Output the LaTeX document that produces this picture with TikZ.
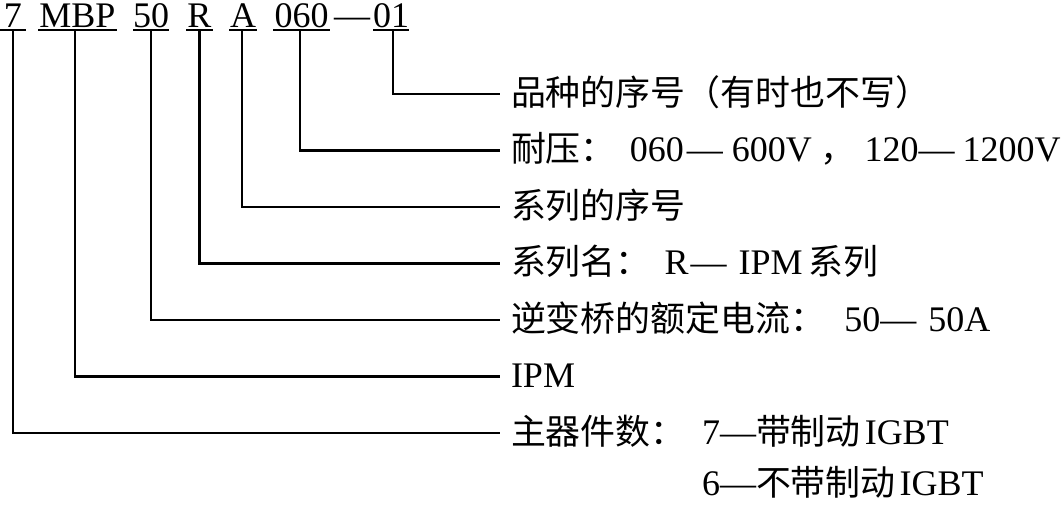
\documentclass[tikz,border=0pt]{standalone}
\usepackage{fontspec}
\setmainfont{Liberation Serif}
\newfontfamily\cjk{Noto Sans CJK SC}[Scale=0.97]
\begin{document}
\begin{tikzpicture}[x=1pt,y=-1pt,
  every node/.style={inner sep=0pt,outer sep=0pt,font=\fontsize{36}{40}\selectfont},
  code/.style={anchor=base},
  lbl/.style={anchor=base west},
  wire/.style={line width=2.6pt,line join=miter},
  uline/.style={line width=2.6pt}]
\useasboundingbox (0,0) rectangle (1063,504);
% code parts
\node[code,minimum width=26pt] (c7) at (13,27) {7};
\node[code,minimum width=79pt] (cM) at (77.5,27) {MBP};
\node[code,minimum width=36pt] (c50) at (151,27) {50};
\node[code,minimum width=27pt] (cR) at (199.5,27) {R};
\node[code,minimum width=28pt] (cA) at (243,27) {A};
\node[code,minimum width=57pt] (c060) at (301.5,27) {060};
\node[code] (cd) at (352,27) {—};
\node[code,minimum width=34pt] (c01) at (391,27) {01};
\foreach \n in {c7,cM,c50,cR,cA,c060,c01}
  \draw[uline] ([yshift=-3pt]\n.base west) -- ([yshift=-3pt]\n.base east);
% line ends
\coordinate (e01) at (500,94);
\coordinate (e060) at (500,150.5);
\coordinate (eA) at (500,207);
\coordinate (eR) at (500,263.5);
\coordinate (e50) at (500,320);
\coordinate (eM) at (500,376.5);
\coordinate (e7) at (500,433);
% connectors
\draw[wire] ([yshift=-3pt]c01.base) ++(2,0) |- (e01);
\draw[wire] ([yshift=-3pt]c060.base) ++(-1.5,0) |- (e060);
\draw[wire] ([yshift=-3pt]cA.base) ++(-1,0) |- (eA);
\draw[wire] ([yshift=-3pt]cR.base) |- (eR);
\draw[wire] ([yshift=-3pt]c50.base) |- (e50);
\draw[wire] ([yshift=-3pt]cM.base) ++(-2.5,0) |- (eM);
\draw[wire] ([yshift=-3pt]c7.base) |- (e7);
% labels
\node[lbl] (l01) at (511,105) {{\cjk 品种的序号（有时也不写）}};
\node[lbl] (l060) at (511,161.5) {{\cjk 耐压：}\hspace{14pt}060\hspace{3pt}—\hspace{9pt}600V\hspace{9pt}{\cjk ，}\hspace{9pt}120—\hspace{8pt}1200V};
\node[lbl] (lA) at (511,218) {{\cjk 系列的序号}};
\node[lbl] (lR) at (511,274.5) {{\cjk 系列名：}\hspace{14pt}R\hspace{2pt}—\hspace{12pt}IPM\hspace{6pt}{\cjk 系列}};
\node[lbl] (l50) at (511,331) {{\cjk 逆变桥的额定电流：}\hspace{19pt}50—\hspace{12pt}50A};
\node[lbl] (lM) at (511,387) {IPM};
\node[lbl] (l7) at (511,444) {{\cjk 主器件数：}};
\node[lbl] (l7b) at (702,444) {7—{\cjk 带制动}\hspace{4pt}IGBT};
\node[lbl] (l6) at (702,495) {6—{\cjk 不带制动}\hspace{4pt}IGBT};
\end{tikzpicture}
\end{document}
